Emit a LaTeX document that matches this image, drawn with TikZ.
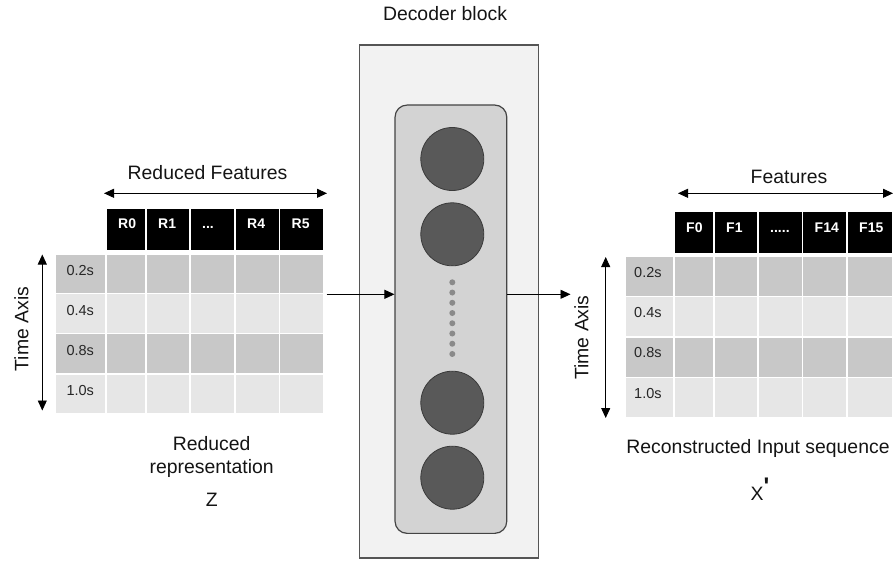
\documentclass[tikz,border=0pt]{standalone}
\usepackage{fontspec}
\setmainfont{Liberation Sans}
\usetikzlibrary{arrows.meta}
\definecolor{darkrow}{HTML}{C8C8C8}
\definecolor{lightrow}{HTML}{E6E6E6}
\definecolor{outerfill}{HTML}{F2F2F2}
\definecolor{outerdraw}{HTML}{555555}
\definecolor{innerfill}{HTML}{D3D3D3}
\definecolor{innerdraw}{HTML}{444444}
\definecolor{neuronfill}{HTML}{595959}
\definecolor{neurondraw}{HTML}{3A3A3A}
\definecolor{dotfill}{HTML}{8A8A8A}
\newcommand{\mythreedots}{...}
\newcommand{\myfivedots}{.....}
\tikzset{
  arr/.style={line width=0.9pt, -{Triangle[length=10pt,width=9pt]}},
  darr/.style={line width=0.9pt, {Triangle[length=10pt,width=9pt]}-{Triangle[length=10pt,width=9pt]}},
  bigtext/.style={inner sep=0pt, font=\fontsize{19.4}{23}\selectfont, text=black!92},
  hdrtext/.style={inner sep=0pt, anchor=base west, font=\fontsize{14}{16}\selectfont\bfseries, text=white},
  celltext/.style={inner sep=0pt, anchor=base west, font=\fontsize{14.5}{17}\selectfont, text=black!85},
  cellbox/.style={draw=white, line width=1.5pt},
  neuron/.style={circle, minimum width=61pt, minimum height=63pt, inner sep=0pt, fill=neuronfill, draw=neurondraw, line width=0.8pt},
  smalldot/.style={circle, minimum size=6pt, inner sep=0pt, fill=dotfill},
}
\begin{document}
\begin{tikzpicture}[x=1pt,y=-1pt]
\useasboundingbox (0,0) rectangle (893,563);

% ---------------- Decoder block ----------------
\node[draw=outerdraw, fill=outerfill, line width=1.2pt, minimum width=179pt, minimum height=513pt, inner sep=0pt] (outer) at (448.8,301.5) {};
\node[draw=innerdraw, fill=innerfill, line width=1.2pt, rounded corners=12pt, minimum width=111.7pt, minimum height=428.3pt, inner sep=0pt] (inner) at (450.9,319.2) {};
\node[bigtext, anchor=base] (dectitle) at (445,20.7) {Decoder block};
\node[neuron] (n1) at (452.3,159) {};
\node[neuron] (n2) at (452.3,234.3) {};
\node[neuron] (n3) at (452.3,402.7) {};
\node[neuron] (n4) at (452.3,477.7) {};
\foreach \i in {0,1,2,3,4,5,6,7} {
  \node[smalldot] (d\i) at (452.3,282.3+\i*10.24) {};
}

% ---------------- Left table ----------------
\foreach \xa/\xb in {55/106,106/146,146/190,190/235,235/279.5,279.5/324} {
  \foreach \ya/\yb/\c in {254/293.5/darkrow,293.5/333.5/lightrow,333.5/374/darkrow,374/414/lightrow} {
    \fill[\c, cellbox] (\xa,\ya) rectangle (\xb,\yb);
  }
}
\foreach \xa/\xb/\t [count=\i] in {106/146/R0,146/190/R1,190/235/\mythreedots,235/279.5/R4,279.5/324/R5} {
  \fill[black, cellbox] (\xa,208) rectangle (\xb,250.5);
  \node[hdrtext] (lh\i) at (\xa+12,228) {\t};
}
\foreach \y/\t [count=\i] in {275.3/0.2s,315.3/0.4s,355.8/0.8s,395.8/1.0s} {
  \node[celltext] (lt\i) at (66.3,\y) {\t};
}
\coordinate (lfa) at (104,193.3);
\coordinate (lfb) at (327,193.3);
\draw[darr] (lfa) -- (lfb);
\node[bigtext, anchor=base] (lfeat) at (207.5,179.3) {Reduced Features};
\coordinate (lta) at (42.3,254.5);
\coordinate (ltb) at (42.3,410.5);
\draw[darr] (lta) -- (ltb);
\node[bigtext, anchor=base, rotate=90] (ltime) at (28.3,329) {Time Axis};
\node[bigtext, anchor=base] (lred1) at (211.7,450) {Reduced};
\node[bigtext, anchor=base] (lred2) at (211.7,473.3) {representation};
\node[bigtext, anchor=base] (lz) at (211.7,506) {Z};

% ---------------- Right table ----------------
\foreach \xa/\xb in {625/674,674/714,714/758,758/802.5,802.5/847,847/893} {
  \foreach \ya/\yb/\c in {256.7/296.5/darkrow,296.5/337/lightrow,337/377.5/darkrow,377.5/417.5/lightrow} {
    \fill[\c, cellbox] (\xa,\ya) rectangle (\xb,\yb);
  }
}
\foreach \xa/\xb/\t [count=\i] in {674/714/F0,714/758/F1,758/802.5/\myfivedots,802.5/847/F14,847/893/F15} {
  \fill[black, cellbox] (\xa,211.5) rectangle (\xb,253.5);
  \node[hdrtext] (rh\i) at (\xa+12,232) {\t};
}
\foreach \y/\t [count=\i] in {277/0.2s,317/0.4s,357.5/0.8s,398/1.0s} {
  \node[celltext] (rt\i) at (634,\y) {\t};
}
\coordinate (rfa) at (678,193.3);
\coordinate (rfb) at (893,193.3);
\draw[darr] (rfa) -- (rfb);
\node[bigtext, anchor=base] (rfeat) at (789,183.3) {Features};
\coordinate (rta) at (605.7,257);
\coordinate (rtb) at (605.7,418);
\draw[darr] (rta) -- (rtb);
\node[bigtext, anchor=base, rotate=90] (rtime) at (588.3,337.5) {Time Axis};
\node[bigtext, anchor=base] (rrec) at (758,453.3) {Reconstructed Input sequence};
\node[bigtext, anchor=base] (rx) at (760,500) {X\raisebox{0.55ex}{\fontsize{24}{26}\selectfont\bfseries\textquotesingle}};

% ---------------- Connectors ----------------
\coordinate (inStart) at (326.7,294.3);
\coordinate (outEnd) at (570.5,294.3);
\draw[arr] (inStart) -- (inStart -| inner.west);
\draw[arr] (inner.east |- outEnd) -- (outEnd);
\end{tikzpicture}
\end{document}
